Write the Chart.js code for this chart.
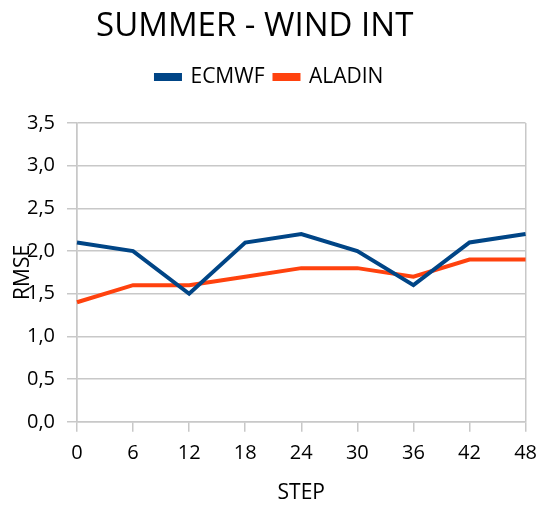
<!DOCTYPE html>
<html><head><meta charset="utf-8">
<script src="https://cdn.jsdelivr.net/npm/chart.js@4/dist/chart.umd.min.js"></script>
<style>html,body{margin:0;padding:0;background:#fff}#wrap{width:546px;height:506px}</style>
</head><body><div id="wrap"><canvas id="c" width="546" height="506"></canvas></div>
<script>
const steps = ['0','6','12','18','24','30','36','42','48'];
const ecmwf = [2.1, 2.0, 1.5, 2.1, 2.2, 2.0, 1.6, 2.1, 2.2];
const aladin = [1.4, 1.6, 1.6, 1.7, 1.8, 1.8, 1.7, 1.9, 1.9];
const seriesNames = ['ECMWF', 'ALADIN'];
const chartTitle = 'SUMMER - WIND INT';
const xTitle = 'STEP';
const yTitle = 'RMSE';

const FONT = "'Open Sans', 'Noto Sans', sans-serif";
const GRID = '#c8c8c8';
Chart.defaults.font.family = FONT;
Chart.defaults.color = '#000';

const layoutTweaks = {
  id: 'layoutTweaks',
  beforeInit(chart) {
    const lg = chart.legend;
    const origFit = lg.fit;
    lg.fit = function () { origFit.call(this); this.height += 25.4; };
    const origLgDraw = lg.draw;
    lg.draw = function (...a) { const c = this.ctx; c.save(); c.translate(5, 0); origLgDraw.apply(this, a); c.restore(); };
    const tb = chart.titleBlock;
    const origTDraw = tb.draw;
    tb.draw = function (...a) { const c = this.ctx; c.save(); c.translate(-10, 0); origTDraw.apply(this, a); c.restore(); };
  }
};

new Chart(document.getElementById('c'), {
  type: 'line',
  data: {
    labels: steps,
    datasets: [
      {label: seriesNames[0], data: ecmwf, borderColor: '#004586', backgroundColor: '#004586', borderWidth: 4, pointRadius: 0, tension: 0},
      {label: seriesNames[1], data: aladin, borderColor: '#ff420e', backgroundColor: '#ff420e', borderWidth: 4, pointRadius: 0, tension: 0}
    ]
  },
  plugins: [layoutTweaks],
  options: {
    responsive: false,
    animation: false,
    layout: {padding: {left: 0, right: 16.6, top: 0, bottom: 0}},
    plugins: {
      title: {display: true, text: chartTitle, font: {size: 33, weight: 'normal'}, color: '#000', padding: {top: 7, bottom: 10}},
      legend: {labels: {font: {size: 21}, boxWidth: 24, boxHeight: 4, color: '#000', padding: 10}},
      tooltip: {enabled: false}
    },
    scales: {
      x: {
        offset: false,
        grid: {
          drawOnChartArea: true,
          color: ctx => (ctx.index === 0 || ctx.index === steps.length - 1) ? GRID : 'rgba(0,0,0,0)',
          tickColor: GRID, tickLength: 10, lineWidth: 1.5
        },
        border: {color: GRID, width: 1.5},
        ticks: {font: {size: 20}, color: '#000', maxRotation: 0, autoSkip: false, padding: 9},
        title: {display: true, text: xTitle, font: {size: 21}, color: '#000', padding: {top: 7, bottom: 0}}
      },
      y: {
        min: 0, max: 3.5,
        grid: {color: GRID, tickColor: GRID, tickLength: 10, lineWidth: 1.5},
        border: {color: GRID, width: 1.5},
        ticks: {stepSize: 0.5, font: {size: 20}, color: '#000', padding: 12,
          callback: v => v.toFixed(1).replace('.', ',')},
        title: {display: true, text: yTitle, font: {size: 21}, color: '#000', padding: {top: 10, bottom: 0}},
        afterFit: s => { s.width = 77; }
      }
    }
  }
});
</script></body></html>
